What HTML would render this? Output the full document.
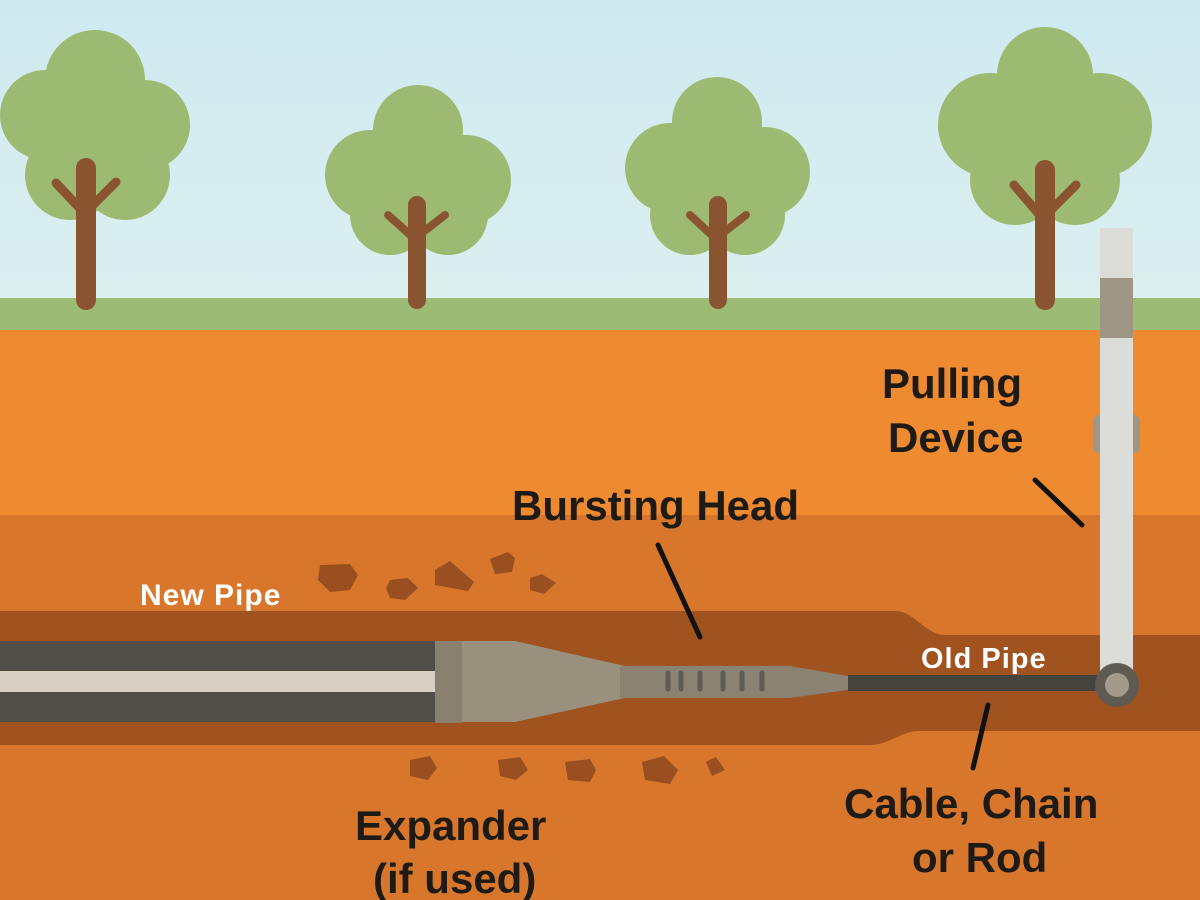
<!DOCTYPE html>
<html><head><style>
html,body{margin:0;padding:0;width:1200px;height:900px;overflow:hidden}
</style></head><body>
<svg width="1200" height="900" xmlns="http://www.w3.org/2000/svg" font-family="Liberation Sans, sans-serif">
<defs><linearGradient id="sky" x1="0" y1="0" x2="0" y2="1"><stop offset="0" stop-color="#cfe9f1"/><stop offset="1" stop-color="#dcefef"/></linearGradient></defs>
<rect width="1200" height="300" fill="url(#sky)"/>
<rect y="298" width="1200" height="33" fill="#9cbb74"/>
<rect y="330" width="1200" height="190" fill="#ee8b31"/>
<rect y="515" width="1200" height="385" fill="#d8772b"/>
<path d="M0 611 H895 C915 611 925 635 945 635 H1200 V731 H920 C900 731 890 745 870 745 H0 Z" fill="#a0521f"/>
<g fill="#9dba72">
<circle cx="95" cy="80" r="50"/><circle cx="45" cy="115" r="45"/><circle cx="145" cy="125" r="45"/><circle cx="70" cy="175" r="45"/><circle cx="125" cy="175" r="45"/><circle cx="95" cy="130" r="55"/>
<circle cx="418" cy="130" r="45"/><circle cx="370" cy="175" r="45"/><circle cx="466" cy="180" r="45"/><circle cx="390" cy="215" r="40"/><circle cx="448" cy="215" r="40"/><circle cx="418" cy="175" r="50"/>
<circle cx="717" cy="122" r="45"/><circle cx="670" cy="168" r="45"/><circle cx="765" cy="172" r="45"/><circle cx="690" cy="215" r="40"/><circle cx="745" cy="215" r="40"/><circle cx="717" cy="170" r="50"/>
<circle cx="1045" cy="75" r="48"/><circle cx="990" cy="125" r="52"/><circle cx="1100" cy="125" r="52"/><circle cx="1015" cy="180" r="45"/><circle cx="1075" cy="180" r="45"/><circle cx="1045" cy="130" r="55"/>
</g>
<g stroke="#8a5430" stroke-linecap="round" fill="none">
<path d="M86 300 V168" stroke-width="20"/><path d="M86 215 L56 183 M88 210 L116 182" stroke-width="9"/>
<path d="M417 300 V205" stroke-width="18"/><path d="M416 240 L388 215 M418 236 L445 215" stroke-width="8"/>
<path d="M718 300 V205" stroke-width="18"/><path d="M717 240 L690 215 M719 236 L746 215" stroke-width="8"/>
<path d="M1045 300 V170" stroke-width="20"/><path d="M1044 220 L1014 185 M1046 215 L1076 185" stroke-width="9"/>
</g>
<rect x="1100" y="228" width="33" height="455" fill="#dcdcd8"/>
<rect x="1100" y="278" width="33" height="60" fill="#a09686"/>
<rect x="1093" y="415" width="47" height="38" rx="6" fill="#a09686"/>
<rect x="1100" y="410" width="33" height="48" fill="#dcdcd8"/>
<rect x="0" y="641" width="440" height="81" fill="#4f4e48"/>
<rect x="0" y="671" width="440" height="21" fill="#d7d0c2"/>
<rect x="435" y="641" width="27" height="82" fill="#8a8070"/>
<path d="M462 641 H515 L625 666 V698 L515 722 H462 Z" fill="#9a907e"/>
<rect x="848" y="675" width="255" height="16" fill="#45443f"/>
<path d="M620 666 H790 L848 676 V690 L790 698 H620 Z" fill="#8b8272"/>
<g stroke="#5f5a52" stroke-width="5" stroke-linecap="round">
<path d="M668 673V689M681 673V689M700 673V689M723 673V689M742 673V689M762 673V689"/></g>
<circle cx="1117" cy="685" r="22" fill="#5f5b53"/><circle cx="1117" cy="685" r="12" fill="#a49a8a"/>
<g fill="#9a4f20">
<path d="M320 565 L350 564 L358 575 L350 590 L330 592 L318 580 Z"/>
<path d="M390 580 L408 578 L418 588 L405 600 L390 598 L386 588 Z"/>
<path d="M435 570 L450 561 L474 582 L468 591 L435 585 Z"/>
<path d="M490 559 L508 552 L515 558 L512 572 L495 574 Z"/>
<path d="M530 578 L542 574 L556 583 L544 594 L530 590 Z"/>
<path d="M410 760 L430 756 L437 768 L428 780 L410 776 Z"/>
<path d="M498 760 L520 757 L528 770 L516 780 L500 776 Z"/>
<path d="M565 762 L590 759 L596 770 L590 782 L568 780 Z"/>
<path d="M642 762 L664 756 L678 770 L670 784 L645 780 Z"/>
<path d="M706 762 L716 757 L725 770 L712 776 Z"/>
</g>
<g stroke="#111" stroke-width="5" stroke-linecap="round">
<path d="M658 545 L700 637"/><path d="M1035 480 L1082 525"/><path d="M988 705 L973 768"/></g>
<g font-weight="bold" fill="#1e1a16" font-size="42">
<text x="512" y="520">Bursting Head</text>
<text x="882" y="398">Pulling</text><text x="888" y="452">Device</text>
<text x="844" y="818">Cable, Chain</text><text x="912" y="872">or Rod</text>
<text x="355" y="840">Expander</text><text x="373" y="893">(if used)</text>
</g>
<g font-weight="bold" fill="#fff" font-size="30">
<text x="140" y="605" letter-spacing="1">New Pipe</text><text x="921" y="668" font-size="29" letter-spacing="1">Old Pipe</text>
</g>
</svg>
</body></html>
